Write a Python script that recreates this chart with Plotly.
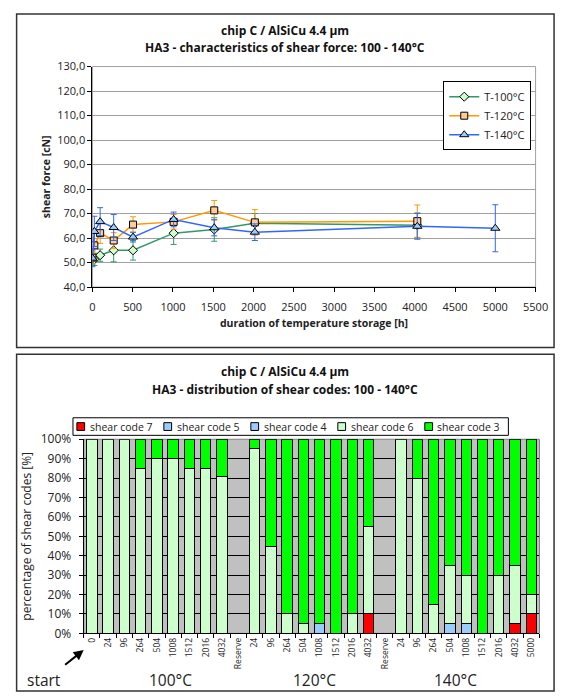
import plotly.graph_objects as go

# ---------------- top chart: shear force ----------------
hours_100 = [0, 24, 96, 264, 504, 1008, 1512, 2016, 4032]
force_100 = [52.0, 51.3, 53.0, 55.0, 55.0, 62.0, 63.5, 66.0, 65.2]
err_100 = [3.0, 2.5, 2.5, 4.7, 4.0, 4.6, 4.8, 4.0, 5.0]

hours_120 = [0, 24, 96, 264, 504, 1008, 1512, 2016, 4032]
force_120 = [52.0, 57.0, 62.0, 59.0, 65.5, 66.6, 71.3, 66.4, 66.9]
err_120 = [2.5, 5.0, 4.2, 3.2, 3.2, 3.0, 4.0, 5.2, 6.6]

hours_140 = [0, 24, 96, 264, 504, 1008, 1512, 2016, 4032, 5000]
force_140 = [51.8, 62.7, 66.7, 64.3, 60.4, 67.6, 64.2, 62.4, 64.8, 64.0]
err_140 = [3.5, 6.2, 5.7, 5.3, 2.0, 3.0, 3.3, 3.4, 5.3, 9.6]

# ---------------- bottom chart: shear code distribution ----------------
cat_labels = ["0", "24", "96", "264", "504", "1008", "1512", "2016", "4032", "Reserve",
              "24", "96", "264", "504", "1008", "1512", "2016", "4032", "Reserve",
              "24", "96", "264", "504", "1008", "1512", "2016", "4032", "5000"]
code7 = [0, 0, 0, 0, 0, 0, 0, 0, 0, None,
         0, 0, 0, 0, 0, 0, 0, 10, None,
         0, 0, 0, 0, 0, 0, 0, 5, 10]
code5 = [0, 0, 0, 0, 0, 0, 0, 0, 0, None,
         0, 0, 0, 0, 0, 0, 0, 0, None,
         0, 0, 0, 0, 0, 0, 0, 0, 0]
code4 = [0, 0, 0, 0, 0, 0, 0, 0, 0, None,
         0, 0, 0, 0, 5, 0, 0, 0, None,
         0, 0, 0, 5, 5, 0, 0, 0, 0]
code6 = [100, 100, 100, 85, 90, 90, 85, 85, 81, None,
         95, 45, 10, 5, 0, 0, 10, 45, None,
         100, 80, 15, 30, 25, 0, 30, 30, 10]
code3 = [0, 0, 0, 15, 10, 10, 15, 15, 19, None,
         5, 55, 90, 95, 95, 100, 90, 45, None,
         0, 20, 85, 65, 70, 100, 70, 65, 80]
code_names = ["shear code 7", "shear code 5", "shear code 4", "shear code 6", "shear code 3"]
code_colors = ["#FF0000", "#99CCFF", "#99CCFF", "#CCFFCC", "#00FF00"]

W, H = 569, 697
FONT = "Open Sans"


def px(x):
    return x / W


def py(y):
    return 1 - y / H


fig = go.Figure()

series = [
    ("T-100°C", hours_100, force_100, err_100, "#339966", "#CCFFCC", "diamond", 7),
    ("T-120°C", hours_120, force_120, err_120, "#FF9900", "#FFCC99", "square", 7),
    ("T-140°C", hours_140, force_140, err_140, "#3366FF", "#99CCFF", "triangle-up", 8),
]
for name, xs, ys, es, lc, fc, sym, ms in series:
    fig.add_trace(go.Scatter(
        x=xs, y=ys, name=name, mode="lines+markers",
        line=dict(color=lc, width=1.5),
        marker=dict(symbol=sym, size=ms, color=fc, line=dict(color="black", width=1)),
        error_y=dict(type="data", array=es, visible=True, color=lc, thickness=1, width=3),
        xaxis="x", yaxis="y", legend="legend",
    ))

idx = list(range(len(cat_labels)))
for name, vals, col in zip(code_names, [code7, code5, code4, code6, code3], code_colors):
    fig.add_trace(go.Bar(
        x=idx, y=[v if v else None for v in vals], name=name,
        marker=dict(color=col, line=dict(color="black", width=1)),
        xaxis="x2", yaxis="y2", showlegend=False,
    ))

tickfont = dict(family=FONT, size=11, color="#222")

fig.update_layout(
    width=W, height=H, autosize=False,
    margin=dict(l=0, r=0, t=0, b=0),
    paper_bgcolor="white", plot_bgcolor="rgba(0,0,0,0)",
    separators=",.",
    font=dict(family=FONT, size=11, color="#222"),
    barmode="stack", bargap=0.36,
    xaxis=dict(
        domain=[px(92), px(548)], anchor="y", range=[0, 5500], tick0=0, dtick=500,
        showgrid=False, zeroline=False, showline=True, linecolor="black", linewidth=1,
        ticks="outside", ticklen=4, tickcolor="black", tickfont=tickfont,
        ticklabelstandoff=6,
        title=dict(text="<b>duration of temperature storage [h]</b>",
                   font=dict(family=FONT, size=10.5, color="#222"), standoff=6),
    ),
    yaxis=dict(
        domain=[py(285), py(59)], anchor="x", range=[40, 130], tick0=40, dtick=10,
        tickformat=".1f", showgrid=True, gridcolor="#A0A0A0", gridwidth=1,
        zeroline=False, showline=True, linecolor="black", linewidth=1,
        ticks="outside", ticklen=4, tickcolor="black", tickfont=tickfont,
        title=dict(text="<b>shear force [cN]</b>",
                   font=dict(family=FONT, size=10.5, color="#222"), standoff=4),
    ),
    xaxis2=dict(
        domain=[px(83), px(552)], anchor="y2", range=[-0.5, len(cat_labels) - 0.5],
        tickmode="array", tickvals=idx, ticktext=cat_labels, tickangle=-90,
        ticks="", showgrid=False, zeroline=False,
        showline=True, linecolor="black", linewidth=1,
        tickfont=dict(family=FONT, size=8.5, color="#222"),
        minor=dict(tickmode="array", tickvals=[i - 0.5 for i in range(len(cat_labels) + 1)],
                   ticks="outside", ticklen=4, tickcolor="black", showgrid=False),
    ),
    yaxis2=dict(
        domain=[py(640), py(441)], anchor="x2", range=[0, 100], tick0=0, dtick=10,
        ticksuffix="%", showgrid=True, gridcolor="black", gridwidth=1,
        zeroline=False, showline=True, linecolor="black", linewidth=1,
        ticks="outside", ticklen=4, tickcolor="black",
        tickfont=dict(family=FONT, size=12, color="#222"), ticklabelstandoff=5,
        title=dict(text="percentage of shear codes [%]",
                   font=dict(family=FONT, size=12, color="#222"), standoff=6),
    ),
    legend=dict(
        x=px(453), y=py(74), xanchor="left", yanchor="top",
        bgcolor="white", bordercolor="black", borderwidth=1,
        font=dict(family=FONT, size=11, color="#222"), tracegroupgap=0,
        traceorder="normal",
    ),
)

shapes = [
    # outer frames
    dict(type="rect", xref="paper", yref="paper", x0=px(14), x1=px(567), y0=py(347), y1=py(5),
         line=dict(color="#333", width=1.5), fillcolor="rgba(0,0,0,0)", layer="below"),
    dict(type="rect", xref="paper", yref="paper", x0=px(14), x1=px(567), y0=py(699), y1=py(354),
         line=dict(color="#333", width=1.5), fillcolor="rgba(0,0,0,0)", layer="below"),
    # top plot area border
    dict(type="rect", xref="x domain", yref="y domain", x0=0, x1=1, y0=0, y1=1,
         line=dict(color="#A0A0A0", width=1), fillcolor="white", layer="below"),
    # bottom plot area background
    dict(type="rect", xref="x2 domain", yref="y2 domain", x0=0, x1=1, y0=0, y1=1,
         line=dict(color="#808080", width=1), fillcolor="#C0C0C0", layer="below"),
    # bottom legend frame
    dict(type="rect", xref="paper", yref="paper", x0=px(72), x1=px(520), y0=py(437), y1=py(419),
         line=dict(color="black", width=1), fillcolor="white", layer="above"),
]

ann = []
# bottom legend entries (swatch + label)
LEG_X0, LEG_PITCH, LEG_Y = 76, 89.5, 428
for i, (name, col) in enumerate(zip(code_names, code_colors)):
    sx = LEG_X0 + LEG_PITCH * i
    shapes.append(dict(type="rect", xref="paper", yref="paper",
                       x0=px(sx), x1=px(sx + 8), y0=py(LEG_Y + 4), y1=py(LEG_Y - 4),
                       line=dict(color="black", width=1), fillcolor=col, layer="above"))
    ann.append(dict(text=name, xref="paper", yref="paper", x=px(sx + 11), y=py(LEG_Y),
                    xanchor="left", yanchor="middle", showarrow=False,
                    font=dict(family=FONT, size=10.5, color="#222")))
fig.update_layout(shapes=shapes)

bold = dict(family=FONT, size=12, color="#111")
for text, y in [("<b>chip C / AlSiCu 4.4 µm</b>", 22),
                ("<b>HA3 - characteristics of shear force: 100 - 140°C</b>", 39),
                ("<b>chip C / AlSiCu 4.4 µm</b>", 372),
                ("<b>HA3 - distribution of shear codes: 100 - 140°C</b>", 390)]:
    ann.append(dict(text=text, xref="paper", yref="paper", x=px(290), y=py(y),
                    xanchor="center", yanchor="middle", showarrow=False, font=bold))
big = dict(family=FONT, size=15.5, color="#222")
for text, x in [("start", 42), ("100°C", 172), ("120°C", 321), ("140°C", 466)]:
    ann.append(dict(text=text, xref="paper", yref="paper", x=px(x), y=py(688),
                    xanchor="center", yanchor="middle", showarrow=False, font=big))
ann.append(dict(text="", xref="paper", yref="paper", x=px(83), y=py(657),
                ax=-20, ay=16, showarrow=True, arrowhead=2, arrowsize=1,
                arrowwidth=2, arrowcolor="black"))
fig.update_layout(annotations=ann)

fig.write_html("out.html")
